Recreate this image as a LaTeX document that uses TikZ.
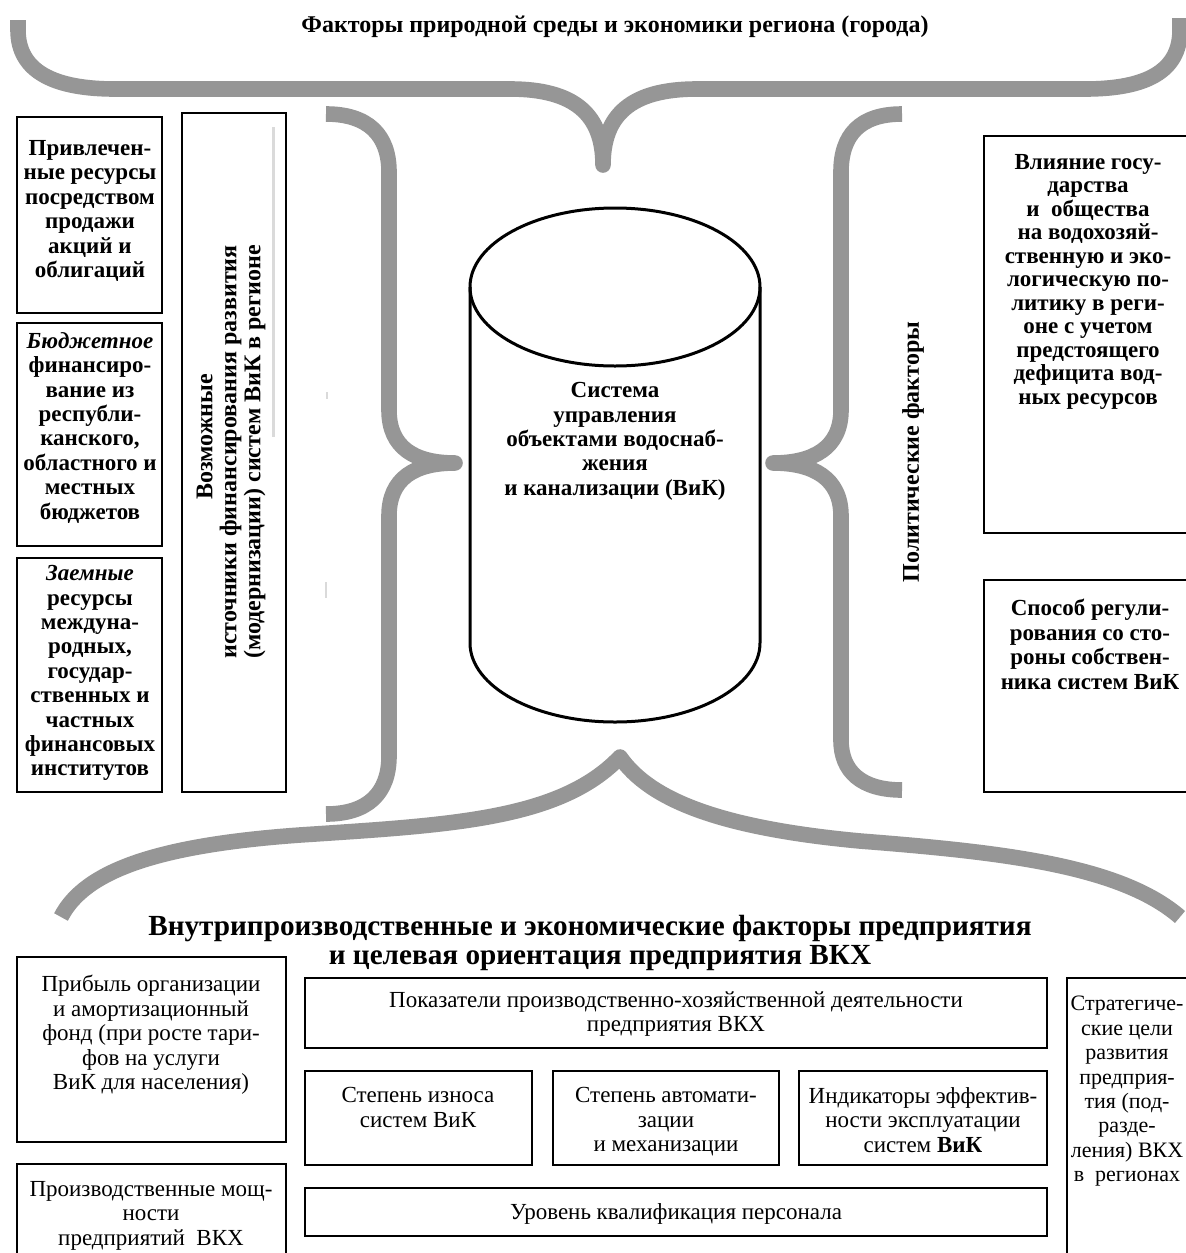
\documentclass[tikz,border=0pt]{standalone}
\usepackage{fontspec}
\setmainfont{Liberation Serif}
\usetikzlibrary{fit}
\definecolor{bracegray}{RGB}{150,150,150}
\definecolor{rulegray}{RGB}{218,218,218}
\tikzset{
  box/.style={draw, line width=1pt, inner sep=0pt},
  brace/.style={draw=bracegray, line width=7.8pt, line cap=butt, line join=round},
  btxt/.style={font=\fontsize{11.5}{12.2}\selectfont\bfseries, align=center, inner sep=0pt},
  rtxt/.style={font=\fontsize{11.5}{12.2}\selectfont, align=center, inner sep=0pt},
  vtxt/.style={font=\fontsize{12}{12}\selectfont\bfseries, align=center, inner sep=0pt, rotate=90},
}
\begin{document}
\begin{tikzpicture}[x=0.5pt,y=-0.5pt]
\clip (0,0) rectangle (1186,1253);
\fill[white] (0,0) rectangle (1186,1253);

% --- grey braces ---
\draw[brace] (18,20) -- (18,30) .. controls (18,72) and (55,89) .. (115,89) -- (510,89)
  .. controls (575,89) and (603,115) .. (603,165)
  .. controls (603,115) and (631,89) .. (697,89) -- (1085,89)
  .. controls (1145,89) and (1180,72) .. (1180,30) -- (1180,18);
\draw[brace] (326,114) .. controls (368,114) and (389,135) .. (389,172) -- (389,410)
  .. controls (389,448) and (415,463) .. (455,463)
  .. controls (415,463) and (389,478) .. (389,516) -- (389,756)
  .. controls (389,793) and (368,814) .. (326,814);
\draw[brace] (902,114) .. controls (860,114) and (841,135) .. (841,172) -- (841,410)
  .. controls (841,448) and (813,463) .. (773,463)
  .. controls (813,463) and (841,478) .. (841,516) -- (841,740)
  .. controls (841,772) and (862,790) .. (902,790);
\draw[brace] (61,917) .. controls (85,870) and (160,845) .. (300,835)
  .. controls (450,825) and (560,820) .. (620,757)
  .. controls (650,800) and (720,828) .. (860,841)
  .. controls (1000,852) and (1120,865) .. (1180,917);

% --- headings ---
\node[btxt, font=\fontsize{12}{13}\selectfont\bfseries] (top) at (615,27)
  {Факторы природной среды и экономики региона (города)};
\node[btxt, font=\fontsize{14.6}{14.6}\selectfont\bfseries, anchor=north] (bottom) at (590,915)
  {Внутрипроизводственные и экономические факторы предприятия\\\hspace*{10pt}и целевая ориентация предприятия ВКХ};

% --- left column: financing sources ---
\node[box, fit={(17,117) (162,313)}] (bA) {};
\node[btxt, anchor=north] (tA) at (90,140)
  {Привлечен-\\ные ресурсы\\посредством\\продажи\\акций и\\облигаций};
\node[box, fit={(17,323) (162,546)}] (bB) {};
\node[btxt, anchor=north] (tB) at (90,332)
  {\textit{Бюджетное}\\финансиро-\\вание из\\республи-\\канского,\\областного и\\местных\\бюджетов};
\node[box, fit={(17,558) (162,792)}] (bC) {};
\node[btxt, anchor=north] (tC) at (90,565)
  {\textit{Заемные}\\ресурсы\\междуна-\\родных,\\государ-\\ственных и\\частных\\финансовых\\институтов};

\node[box, fit={(182,113) (286,792)}] (bV) {};
\draw[rulegray, line width=1.5pt] (273,127) -- (273,437);
\draw[rulegray, line width=1pt] (327,392) -- (327,399);
\draw[rulegray, line width=1pt] (326,582) -- (326,598);
\node[vtxt] (tV) at (231,452)
  {\hspace*{15pt}Возможные\\источники финансирования развития\\(модернизации) систем ВиК в регионе};

% --- centre: the managed system ---
\draw[line width=1.5pt] (615,287) ellipse[x radius=72.5pt, y radius=39.5pt];
\draw[line width=1.5pt] (470,287) -- (470,643)
  arc[start angle=180, end angle=360, x radius=72.5pt, y radius=39.5pt] -- (760,287);
\node[btxt, anchor=north] (sys) at (615,382)
  {Система\\управления\\объектами водоснаб-\\жения\\и канализации (ВиК)};

% --- right column: political factors ---
\node[vtxt] (pol) at (913,452) {Политические факторы};
\node[box, fit={(984,136) (1192,533)}] (bR1) {};
\node[btxt, font=\fontsize{11.5}{11.75}\selectfont\bfseries, anchor=north] (tR1) at (1088,154)
  {Влияние госу-\\дарства\\и~~общества\\на водохозяй-\\ственную и эко-\\логическую по-\\литику в реги-\\оне с учетом\\предстоящего\\дефицита вод-\\ных ресурсов};
\node[box, fit={(984,580) (1192,792)}] (bR2) {};
\node[btxt, anchor=north] (tR2) at (1090,599)
  {Способ регули-\\рования со сто-\\роны собствен-\\ника систем ВиК};

% --- bottom: enterprise factors ---
\node[box, fit={(17,957) (286,1142)}] (bP1) {};
\node[rtxt, anchor=north] (tP1) at (151,975)
  {Прибыль организации\\и амортизационный\\фонд (при росте тари-\\фов на услуги\\ВиК для населения)};
\node[box, fit={(17,1164) (286,1275)}] (bP2) {};
\node[rtxt, anchor=north] (tP2) at (151,1181)
  {Производственные мощ-\\ности\\предприятий~~ВКХ};

\node[box, fit={(305,978) (1047,1048)}] (bS0) {};
\node[rtxt, anchor=north] (tS0) at (676,991)
  {Показатели производственно-хозяйственной деятельности\\предприятия ВКХ};
\node[box, fit={(305,1071) (532,1165)}] (bS1) {};
\node[rtxt, anchor=north] (tS1) at (418,1087) {Степень износа\\систем ВиК};
\node[box, fit={(553,1071) (779,1165)}] (bS2) {};
\node[rtxt, anchor=north] (tS2) at (666,1087) {Степень автомати-\\зации\\и механизации};
\node[box, fit={(799,1071) (1047,1165)}] (bS3) {};
\node[rtxt, anchor=north] (tS3) at (923,1087)
  {Индикаторы эффектив-\\ности эксплуатации\\систем \textbf{ВиК}};
\node[box, fit={(305,1188) (1047,1236)}] (bS4) {};
\node[rtxt] (tS4) at (676,1214) {Уровень квалификация персонала};

\node[box, fit={(1067,978) (1197,1275)}] (bST) {};
\node[rtxt, font=\fontsize{11}{12.2}\selectfont, anchor=north] (tST) at (1127,996)
  {Стратегиче-\\ские цели\\развития\\предприя-\\тия (под-\\разде-\\ления) ВКХ\\в~~регионах};
\end{tikzpicture}
\end{document}
